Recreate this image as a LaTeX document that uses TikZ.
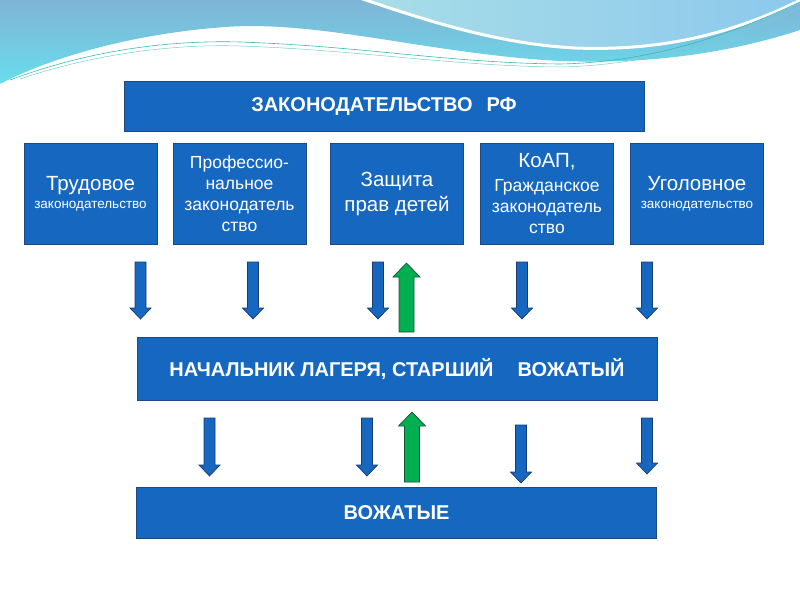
\documentclass[tikz,border=0pt]{standalone}
\usepackage{fontspec}
\setmainfont{Liberation Sans}
\definecolor{boxblue}{RGB}{21,103,192}
\definecolor{boxedge}{RGB}{32,72,130}
\definecolor{arrowedge}{RGB}{24,58,112}
\definecolor{upgreen}{RGB}{0,176,80}
\definecolor{greenedge}{RGB}{30,80,62}
\definecolor{wavetop}{RGB}{128,180,214}
\definecolor{wavelow}{RGB}{104,222,236}
\definecolor{wavelight}{RGB}{168,222,232}
\definecolor{waveright}{RGB}{140,200,236}
\definecolor{waveline}{RGB}{56,186,184}

\tikzset{
  lawbox/.style={draw=boxedge, line width=0.8pt, fill=boxblue, text=white,
    align=center, minimum width=133pt, minimum height=101pt, inner sep=1pt,
    font=\fontsize{18}{21}\selectfont},
  widebox/.style={draw=boxedge, line width=0.8pt, fill=boxblue, text=white,
    minimum width=520pt, font=\fontsize{20}{24}\selectfont\bfseries},
  downarr/.style={draw=arrowedge, line width=0.7pt, fill=boxblue},
  uparr/.style={draw=greenedge, line width=0.7pt, fill=upgreen}
}
% block arrows: x, top, tip
\newcommand{\dnarr}[3]{%
  \draw[downarr] (#1-5.5,#2) -- (#1+5.5,#2) -- (#1+5.5,#3-11) -- (#1+10.5,#3-11)
    -- (#1,#3) -- (#1-10.5,#3-11) -- (#1-5.5,#3-11) -- cycle;}
% green arrow: x, tip, bottom
\newcommand{\uparr}[3]{%
  \draw[uparr] (#1-7.5,#3) -- (#1+7.5,#3) -- (#1+7.5,#2+14) -- (#1+13.5,#2+14)
    -- (#1,#2) -- (#1-13.5,#2+14) -- (#1-7.5,#2+14) -- cycle;}
\newcommand{\txtbig}[1]{{\fontsize{20.5}{21}\selectfont #1}}
\newcommand{\txtmid}[1]{{\fontsize{17.5}{21}\selectfont #1}}
\newcommand{\txtsmall}[1]{{\fontsize{13.5}{14}\selectfont #1}}

\begin{document}
\begin{tikzpicture}[x=1pt, y=-1pt]
    \useasboundingbox (0,0) rectangle (800,600);

    % Background swoosh
    \shade[top color=wavetop, bottom color=wavelow]
        (0,0) -- (800,0) -- (800,30) .. controls (720,56) and (640,64) .. (560,61)
        .. controls (430,54) and (320,20) .. (225,27)
        .. controls (130,34) and (50,58) .. (0,84) -- cycle;
    \shade[left color=wavelight, right color=waveright, draw=white, line width=3pt]
        (360,-2) .. controls (430,22) and (500,44) .. (575,48)
        .. controls (680,52) and (750,25) .. (805,-2) -- cycle;
    \draw[waveline, line width=0.6pt]
        (10,80) .. controls (90,50) and (170,40) .. (240,42)
        .. controls (360,46) and (450,63) .. (560,64)
        .. controls (660,62) and (740,30) .. (800,2);
    \draw[waveline!70, line width=0.5pt]
        (20,79) .. controls (100,52) and (180,44) .. (240,46)
        .. controls (360,50) and (450,66) .. (560,67)
        .. controls (660,65) and (740,34) .. (800,8);

    % Top level
    \node[widebox, minimum height=50pt] (law) at (384,106.5)
        {ЗАКОНОДАТЕЛЬСТВО\hspace{14pt}РФ};

    % Branches of law
    \node[lawbox] (trud) at (90.5,194) {\txtbig{Трудовое}\\[-3pt]\txtsmall{законодательство}};
    \node[lawbox] (prof) at (239.5,194) {\txtmid{Профессио-}\\\txtmid{нальное}\\\txtmid{законодатель}\\\txtmid{ство}};
    \node[lawbox] (deti) at (397,194) {\txtbig{Защита}\\[4pt]\txtbig{прав детей}};
    \node[lawbox] (koap) at (547,194) {\txtbig{КоАП,}\\[3pt]\txtmid{Гражданское}\\\txtmid{законодатель}\\\txtmid{ство}};
    \node[lawbox] (ugol) at (697,194) {\txtbig{Уголовное}\\[-3pt]\txtsmall{законодательство}};

    % Camp staff
    \node[widebox, minimum height=63pt] (chief) at (397,368.5)
        {НАЧАЛЬНИК ЛАГЕРЯ, СТАРШИЙ\hspace{24pt}ВОЖАТЫЙ};
    \node[widebox, minimum height=51pt] (vozh) at (396.5,512.5) {ВОЖАТЫЕ};

    % Arrows between levels
    \foreach \x in {140.5,253,378,522,647} {
        \dnarr{\x}{262}{319}
    }
    \uparr{406.5}{263}{332}

    \dnarr{209.5}{418}{476}
    \dnarr{367}{418}{476}
    \dnarr{521}{425}{483}
    \dnarr{647}{418}{474}
    \uparr{412}{412}{482}
\end{tikzpicture}
\end{document}
